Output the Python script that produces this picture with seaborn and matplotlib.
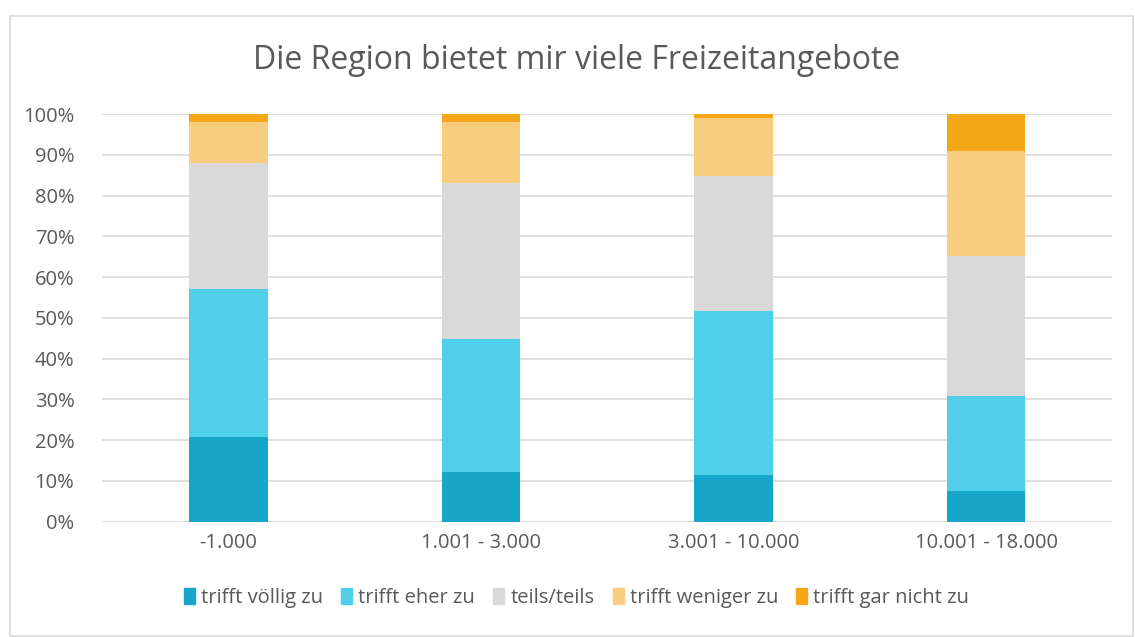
import matplotlib
matplotlib.use("Agg")
import matplotlib.pyplot as plt
import matplotlib.patches as mpatches
import seaborn as sns
import numpy as np
import pandas as pd

# Data (percent of respondents per town size)
groups = ['-1.000', '1.001 - 3.000', '3.001 - 10.000', '10.001 - 18.000']
answers = ['trifft völlig zu', 'trifft eher zu', 'teils/teils',
           'trifft weniger zu', 'trifft gar nicht zu']
voellig = [20.8, 12.3, 11.5, 7.6]
eher = [36.3, 32.6, 40.2, 23.3]
teils = [30.9, 38.2, 33.1, 34.3]
weniger = [10.0, 14.9, 14.2, 25.7]
garnicht = [2.0, 2.0, 1.0, 9.1]
colors = ['#17A6C9', '#4FCFEA', '#D9D9D9', '#F9CD80', '#F6A619']

sns.set_style('white')
plt.rcParams['font.family'] = ['Open Sans', 'DejaVu Sans']
text_color = '#595959'

df = pd.DataFrame({'group': groups, answers[0]: voellig, answers[1]: eher,
                   answers[2]: teils, answers[3]: weniger, answers[4]: garnicht})

fig = plt.figure(figsize=(11.35, 6.37), dpi=100)
ax = fig.add_axes([0.09, 0.181, 0.89, 0.64])

# Stack by drawing cumulative sums, tallest first
cum = df[answers].cumsum(axis=1)
for ans, col in reversed(list(zip(answers, colors))):
    sns.barplot(x=df['group'], y=cum[ans], color=col, width=0.31,
                saturation=1, linewidth=0, ax=ax, zorder=2)

ax.set_xlim(-0.5, 3.5)
ax.set_ylim(0, 100)
ax.set_yticks(np.arange(0, 101, 10))
ax.set_yticklabels([f'{v}%' for v in range(0, 101, 10)])
ax.yaxis.grid(True, color='#D9D9D9', linewidth=1.2, zorder=0)
ax.set_axisbelow(True)
ax.set_xlabel('')
ax.set_ylabel('')
for s in ax.spines.values():
    s.set_visible(False)
ax.tick_params(axis='both', length=0, labelsize=14.5, colors=text_color, pad=8)
ax.tick_params(axis='y', pad=20)

fig.text(0.508, 0.905, 'Die Region bietet mir viele Freizeitangebote',
         ha='center', va='center', fontsize=23, color=text_color)

handles = [mpatches.Patch(color=c, label=a) for a, c in zip(answers, colors)]
fig.legend(handles=handles, loc='center', bbox_to_anchor=(0.508, 0.061),
           ncol=5, frameon=False, fontsize=14.5, handlelength=0.55,
           handleheight=0.8, handletextpad=0.3, columnspacing=0.9,
           labelcolor=text_color)

# Chart border
fig.patches.append(mpatches.Rectangle((10 / 1135, 1 / 637), 1123 / 1135, 620 / 637,
                                      transform=fig.transFigure, fill=False,
                                      edgecolor='#D9D9D9', linewidth=1.2))

fig.savefig('out.png', dpi=100)
plt.close(fig)
